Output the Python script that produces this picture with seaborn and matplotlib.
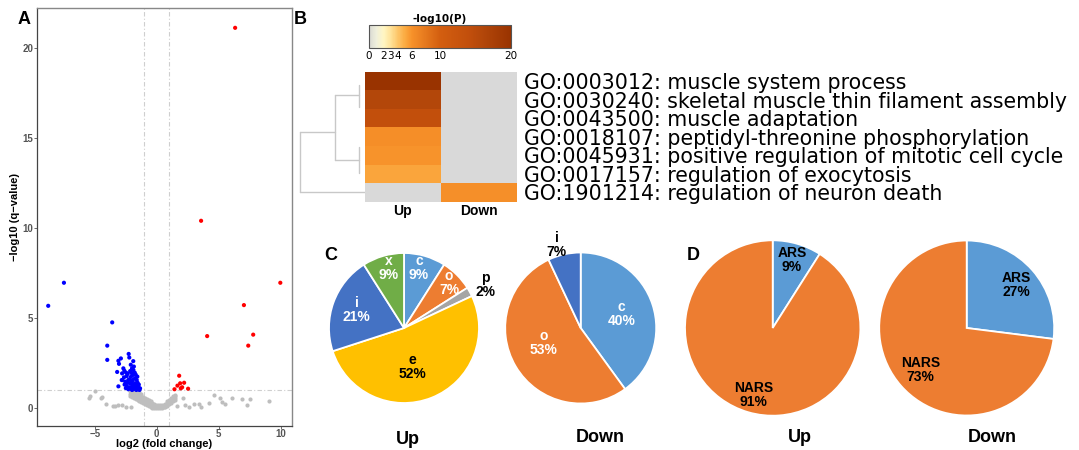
import numpy as np
import pandas as pd
import matplotlib
matplotlib.use("Agg")
import matplotlib.pyplot as plt
import seaborn as sns
from matplotlib.colors import LinearSegmentedColormap

# ---------------- data ----------------
# Panel A volcano
gray_x = [-2.15]*4 + [-2.0]*4 + [-1.85]*4 + [-1.7]*5 + [-1.55]*5 + [-1.4]*5 + [-1.25]*5 + [-1.1]*4 + \
         [-0.95]*4 + [-0.8]*4 + [-0.65]*4 + [-0.5]*4 + [-0.35]*4 + [-0.2]*3 + [-0.05]*3 + [0.1]*3 + \
         [0.25]*3 + [0.4]*3 + [0.55]*3 + [0.7]*3 + [0.85]*4 + [1.0]*4 + [1.15]*4 + [1.3]*4 + [1.45]*4
gray_y = [0.68, 0.8, 0.92, 1.0, 0.62, 0.74, 0.86, 0.98, 0.58, 0.7, 0.82, 0.94,
          0.5, 0.62, 0.74, 0.86, 0.97, 0.44, 0.56, 0.68, 0.8, 0.92, 0.38, 0.5, 0.62, 0.74, 0.86,
          0.32, 0.44, 0.56, 0.68, 0.78, 0.26, 0.38, 0.5, 0.62, 0.2, 0.32, 0.44, 0.56,
          0.14, 0.26, 0.38, 0.5, 0.09, 0.2, 0.32, 0.43, 0.05, 0.16, 0.27, 0.37, 0.02, 0.12, 0.22, 0.3,
          0.0, 0.1, 0.2, 0.0, 0.09, 0.17, 0.0, 0.08, 0.16, 0.01, 0.08, 0.15, 0.02, 0.09, 0.16,
          0.04, 0.11, 0.18, 0.08, 0.16, 0.24, 0.12, 0.21, 0.3, 0.36, 0.2, 0.3, 0.4, 0.47,
          0.3, 0.4, 0.5, 0.58, 0.38, 0.48, 0.58, 0.66, 0.46, 0.56, 0.66, 0.72]
gray_sx = [-5.45, -5.4, -5.0, -4.5, -4.45, -4.1, -3.5, -3.4, -3.1, -2.8, -2.5, -2.1,
           1.6, 2.1, 2.3, 2.6, 3.0, 3.4, 3.6, 4.2, 4.6, 5.1, 5.3, 5.5, 6.1, 6.9, 7.3, 7.5, 9.1]
gray_sy = [0.54, 0.66, 0.96, 0.57, 0.6, 0.2, 0.12, 0.1, 0.14, 0.16, 0.08, 0.05,
           0.1, 0.55, 0.15, 0.07, 0.2, 0.2, 0.07, 0.3, 0.7, 0.55, 0.35, 0.2, 0.55, 0.5, 0.18, 0.5, 0.4]
blue_x = [-8.77, -7.5, -3.6, -4.0, -4.0, -3.1, -3.05, -2.9, -3.2, -3.1, -2.27, -2.22, -1.9, -2.1, -2.0,
          -2.83, -2.70, -2.62, -2.48, -2.8, -2.43, -2.65, -2.78, -2.3, -2.16, -1.89, -1.78, -1.94, -1.76,
          -1.62, -2.02, -2.43, -2.21, -2.02, -1.84, -1.62, -1.49, -2.3, -2.10, -1.89, -1.67, -1.49, -1.35,
          -1.76, -1.57, -1.94, -2.08, -2.35, -2.54, -2.6, -2.5, -1.7, -1.55, -1.45, -2.0, -1.8, -2.35,
          -1.85, -2.05, -1.65, -1.4, -2.2, -1.95, -2.15]
blue_y = [5.67, 6.95, 4.75, 3.46, 2.67, 2.62, 2.45, 2.75, 2.0, 1.2, 3.0, 2.8, 2.6, 2.4, 2.2,
          1.55, 2.2, 2.07, 1.96, 1.92, 1.77, 1.70, 1.55, 1.55, 1.37, 2.11, 1.96, 1.83, 1.65,
          1.55, 1.46, 1.22, 1.15, 1.18, 1.28, 1.22, 1.18, 1.04, 1.09, 1.04, 1.07, 1.05, 1.09,
          1.37, 1.74, 1.55, 1.74, 1.40, 1.46, 1.3, 1.1, 1.85, 1.4, 1.3, 1.0, 1.15, 1.9,
          2.3, 1.95, 1.0, 1.0, 1.6, 1.3, 2.05]
red_x = [6.33, 3.58, 9.98, 7.04, 4.07, 7.79, 7.39, 1.81, 1.67, 1.89, 2.21, 2.05, 1.43, 2.53, 1.94]
red_y = [21.1, 10.39, 6.95, 5.71, 3.99, 4.07, 3.46, 1.79, 1.24, 1.37, 1.40, 1.15, 1.04, 1.07, 1.09]

# Panel B enrichment heatmap
go_terms = ["GO:0003012: muscle system process",
            "GO:0030240: skeletal muscle thin filament assembly",
            "GO:0043500: muscle adaptation",
            "GO:0018107: peptidyl-threonine phosphorylation",
            "GO:0045931: positive regulation of mitotic cell cycle",
            "GO:0017157: regulation of exocytosis",
            "GO:1901214: regulation of neuron death"]
up_logp = [20.0, 16.0, 14.0, 6.3, 6.0, 5.3, np.nan]
down_logp = [np.nan, np.nan, np.nan, np.nan, np.nan, np.nan, 6.2]
heat_cols = ["Up", "Down"]
cbar_ticks = [0, 2, 3, 4, 6, 10, 20]

# Panel C pies
c_up_labels = ["c", "o", "p", "e", "i", "x"]
c_up_pct = [9, 7, 2, 52, 21, 9]
c_down_labels = ["c", "o", "i"]
c_down_pct = [40, 53, 7]
# Panel D pies
d_labels = ["ARS", "NARS"]
d_up_pct = [9, 91]
d_down_pct = [27, 73]

# ---------------- layout ----------------
sns.set_theme(style="white")
plt.rcParams['font.family'] = ['Liberation Sans', 'DejaVu Sans']
plt.rcParams['text.color'] = 'black'
plt.rcParams['axes.labelcolor'] = 'black'
plt.rcParams['xtick.color'] = 'black'
plt.rcParams['ytick.color'] = 'black'
W, H = 1079, 450
fig = plt.figure(figsize=(W / 100, H / 100), dpi=100)


def box(l, t, r, b):
    return [l / W, 1 - b / H, (r - l) / W, (b - t) / H]


# ---------------- Panel A ----------------
axA = fig.add_axes(box(36.7, 8, 291.7, 426))
df_v = pd.DataFrame({
    "x": gray_x + gray_sx + blue_x + red_x,
    "y": gray_y + gray_sy + blue_y + red_y,
    "g": ["ns"] * (len(gray_x) + len(gray_sx)) + ["down"] * len(blue_x) + ["up"] * len(red_x)})
for thr in [-1, 1]:
    axA.axvline(thr, color="#cfcfcf", lw=0.8, ls=(0, (4, 2, 1, 2)), zorder=0)
axA.axhline(1, color="#cfcfcf", lw=0.8, ls=(0, (4, 2, 1, 2)), zorder=0)
sns.scatterplot(data=df_v[df_v.g == "ns"], x="x", y="y", color="#bebebe", s=9, linewidth=0,
                ax=axA, legend=False)
sns.scatterplot(data=df_v[df_v.g != "ns"], x="x", y="y", hue="g",
                palette={"down": "#0000ff", "up": "#ff0000"}, s=9, linewidth=0, ax=axA, legend=False)
axA.set_xlim(-9.7, 10.9)
axA.set_ylim(-1.0, 22.2)
axA.set_xticks([-5, 0, 5, 10])
axA.set_xticklabels(["\u22125", "0", "5", "10"])
axA.set_yticks([0, 5, 10, 15, 20])
axA.tick_params(axis="both", labelsize=7, colors="#555555", length=2, width=0.6, pad=0.5,
                left=True, bottom=True, direction="out")
for lab in axA.get_xticklabels() + axA.get_yticklabels():
    lab.set_fontweight("bold")
axA.set_xlabel("log2 (fold change)", fontsize=8, fontweight="bold", labelpad=0)
axA.set_ylabel("\u2212log10 (q\u2212value)", fontsize=8, fontweight="bold", labelpad=2)
for s in ["left", "bottom"]:
    axA.spines[s].set_color("#444444")
    axA.spines[s].set_linewidth(0.9)
for s in ["top", "right"]:
    axA.spines[s].set_color("#888888")
    axA.spines[s].set_linewidth(1.0)

# ---------------- Panel B ----------------
cmap = LinearSegmentedColormap.from_list("metascape", [
    (0.0, "#d9d9d2"), (0.05, "#efefdc"), (0.1, "#fff6c4"), (0.15, "#ffe39a"),
    (0.2, "#fdc66a"), (0.25, "#fbab42"), (0.3, "#f7922a"), (0.5, "#d35e10"),
    (0.7, "#c24f0c"), (0.8, "#b3470a"), (1.0, "#993300")])
df_h = pd.DataFrame({"Up": up_logp, "Down": down_logp}, index=go_terms)[heat_cols]
axH = fig.add_axes(box(364.7, 71.7, 516.7, 201.7))
axC = fig.add_axes(box(369, 25, 511, 48))
sns.heatmap(df_h, cmap=cmap, vmin=0, vmax=20, ax=axH, cbar_ax=axC,
            cbar_kws={"orientation": "horizontal", "ticks": cbar_ticks},
            xticklabels=heat_cols, yticklabels=go_terms, linewidths=0)
axH.set_facecolor("#d9d9d9")
axH.yaxis.tick_right()
axH.tick_params(axis="y", length=0, pad=5, labelsize=14.8, rotation=0)
for lab in axH.get_yticklabels():
    lab.set_fontfamily("DejaVu Sans")
    lab.set_color("black")
axH.tick_params(axis="x", length=0, pad=2, labelsize=10, rotation=0)
for lab in axH.get_xticklabels():
    lab.set_fontweight("bold")
axH.set_xlabel("")
axH.set_ylabel("")
axC.tick_params(axis="x", labelsize=7.5, length=3, width=0.6, direction="in", top=True,
                bottom=False, labelbottom=True, labeltop=False, pad=2)
for lab in axC.get_xticklabels():
    lab.set_fontfamily("DejaVu Sans")
axC.set_title("-log10(P)", fontsize=7.5, fontfamily="DejaVu Sans", fontweight="bold", pad=2)
cb = axH.collections[0].colorbar
cb.outline.set_edgecolor("#555555")
cb.outline.set_linewidth(0.8)

# dendrogram
axD = fig.add_axes(box(298, 71.7, 364.7, 201.7))
axD.set_xlim(0, 1)
axD.set_ylim(7, 0)
axD.axis("off")
dcol = "#c8c8c8"
segs = [([0.91, 0.91], [0.7, 1.9]), ([0.91, 0.91], [4.05, 5.45]),
        ([0.56, 0.56], [1.24, 4.75]), ([0.56, 0.91], [1.24, 1.24]), ([0.56, 0.91], [4.75, 4.75]),
        ([0.03, 0.03], [3.24, 6.48]), ([0.03, 0.56], [3.24, 3.24]), ([0.03, 1.0], [6.48, 6.48])]
for xs, ys in segs:
    axD.plot(xs, ys, color=dcol, lw=1.0)

# ---------------- Panels C / D pies ----------------
blue_l, orange, gray_c, yellow, blue_d, green = "#5B9BD5", "#ED7D31", "#A5A5A5", "#FFC000", "#4472C4", "#70AD47"


def pie(cx, cy, r, vals, colors, labels, lab_pos, lab_cols, fs=10):
    ax = fig.add_axes(box(cx - r, cy - r, cx + r, cy + r))
    ax.pie(vals, colors=colors, startangle=90, counterclock=False, radius=1,
           wedgeprops={"edgecolor": "white", "linewidth": 1.3})
    ax.set_xlim(-1, 1)
    ax.set_ylim(-1, 1)
    ax.set_aspect("equal")
    ax.axis("off")
    for lab, v, (px, py), col in zip(labels, vals, lab_pos, lab_cols):
        ax.text(px, py, f"{lab}\n{v}%", ha="center", va="center", fontsize=fs,
                fontweight="bold", color=col, linespacing=1.0, clip_on=False)
    return ax


pie(404, 328, 75, c_up_pct, [blue_l, orange, gray_c, yellow, blue_d, green], c_up_labels,
    [(0.2, 0.8), (0.6, 0.6), (1.09, 0.57), (0.11, -0.52), (-0.63, 0.24), (-0.2, 0.8)],
    ["white", "white", "black", "black", "white", "white"])
pie(580.7, 328, 75.5, c_down_pct, [blue_l, orange, blue_d], c_down_labels,
    [(0.54, 0.19), (-0.49, -0.2), (-0.32, 1.1)], ["white", "white", "black"])
pie(772.7, 328, 87.7, d_up_pct, [blue_l, orange], d_labels,
    [(0.22, 0.78), (-0.22, -0.76)], ["black", "black"])
pie(966.7, 328, 87.5, d_down_pct, [blue_l, orange], d_labels,
    [(0.57, 0.49), (-0.53, -0.48)], ["black", "black"])

for (x, y, t) in [(408, 440, "Up"), (600, 437, "Down"), (800, 438, "Up"), (992, 437, "Down")]:
    fig.text(x / W, 1 - y / H, t, ha="center", va="center", fontsize=13, fontweight="bold")
for (x, y, t) in [(24, 20, "A"), (300, 20, "B"), (331, 255, "C"), (693, 255, "D")]:
    fig.text(x / W, 1 - y / H, t, ha="center", va="center", fontsize=13, fontweight="bold")

fig.savefig("out.png", dpi=100)
